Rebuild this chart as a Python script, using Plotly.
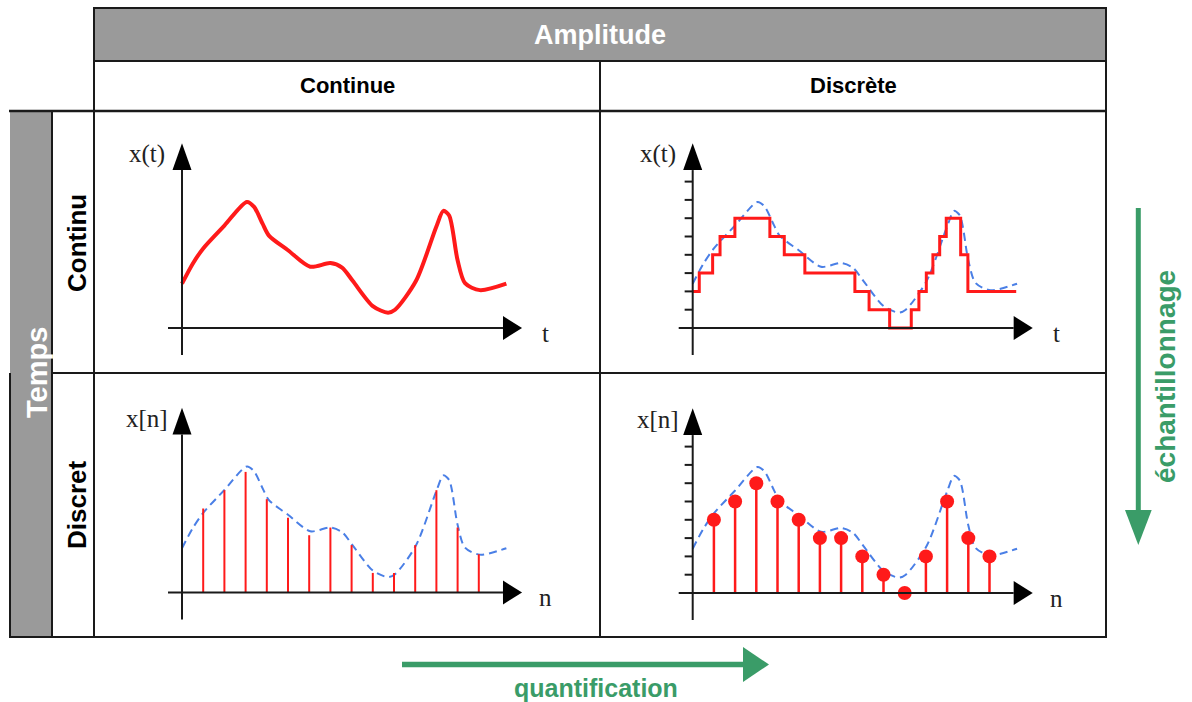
import plotly.graph_objects as go

W, H = 1192, 702

# Continuous analog signal x(t): time (in sample periods) and amplitude (in quantisation steps)
sig_t = [0.0, 0.5, 1.0, 2.0, 3.06, 3.4, 3.8, 4.1, 5.0, 6.05, 7.0, 7.55, 8.05, 9.0, 9.72,
         10.05, 11.04, 12.0, 12.33, 12.6, 13.0, 13.35, 14.05, 15.3]
sig_x = [2.42, 3.5, 4.35, 5.6, 6.89, 6.62, 5.7, 5.05, 4.25, 3.35, 3.55, 3.3, 2.58, 1.2, 0.84,
         1.0, 2.58, 5.55, 6.4, 6.15, 3.7, 2.45, 2.07, 2.42]

# Quantised (staircase) version of x(t): step change times and held levels
stair_t = [0.0, 0.31, 0.94, 1.29, 1.99, 3.64, 4.32, 5.29, 7.65, 8.32, 9.29, 10.31, 10.67,
           11.02, 11.33, 11.65, 11.96, 12.64, 12.98, 15.26]
stair_level = [2, 3, 4, 5, 6, 5, 4, 3, 2, 1, 0, 1, 2, 3, 4, 5, 6, 4, 2, 2]

# Sampled signal x[n]
sample_n = [1, 2, 3, 4, 5, 6, 7, 8, 9, 10, 11, 12, 13, 14]
sample_x = [4.59, 5.59, 6.59, 5.10, 4.08, 3.13, 3.55, 2.59, 1.07, 1.07, 2.59, 5.59, 3.55, 2.09]

# Sampled and quantised signal
digital_x = [4, 5, 6, 5, 4, 3, 3, 2, 1, 0, 2, 5, 3, 2]

quant_levels = [1, 2, 3, 4, 5, 6, 7, 8]

RED = "#ff1a1a"
BLUE = "#4a7fe6"
GREEN = "#3a9c68"
INK = "#1a1a1a"
GREY = "#9a9a9a"

T_UNIT = 21.2   # pixels per sample period
A_UNIT = 18.3   # pixels per quantisation step

# panel: (cell left, right, top, bottom, origin x, origin y) in pixels
panels = {
    "1": (95, 599, 112, 372, 182.0, 328.0),
    "2": (601, 1105, 112, 372, 692.7, 328.0),
    "3": (95, 599, 374, 636, 182.0, 592.5),
    "4": (601, 1105, 374, 636, 692.7, 593.0),
}

fig = go.Figure()
layout_axes = {}
for k, (x0, x1, y0, y1, ox, oy) in panels.items():
    suffix = "" if k == "1" else k
    layout_axes["xaxis" + suffix] = dict(
        domain=[x0 / W, x1 / W], range=[(x0 - ox) / T_UNIT, (x1 - ox) / T_UNIT],
        visible=False, fixedrange=True, anchor="y" + suffix)
    layout_axes["yaxis" + suffix] = dict(
        domain=[1 - y1 / H, 1 - y0 / H], range=[(oy - y1) / A_UNIT, (oy - y0) / A_UNIT],
        visible=False, fixedrange=True, anchor="x" + suffix)


def refs(k):
    return ("x", "y") if k == "1" else ("x" + k, "y" + k)


def stems(xs, ys):
    sx, sy = [], []
    for a, b in zip(xs, ys):
        sx += [a, a, None]
        sy += [0, b, None]
    return sx, sy


SMOOTH = 0.8

# Panel 1: continuous time, continuous amplitude
xr, yr = refs("1")
fig.add_trace(go.Scatter(x=sig_t, y=sig_x, mode="lines", xaxis=xr, yaxis=yr,
                         line=dict(color=RED, width=4, shape="spline", smoothing=SMOOTH)))

# Panel 2: continuous time, discrete amplitude
xr, yr = refs("2")
fig.add_trace(go.Scatter(x=sig_t, y=sig_x, mode="lines", xaxis=xr, yaxis=yr,
                         line=dict(color=BLUE, width=2, dash="8px,5px", shape="spline", smoothing=SMOOTH)))
fig.add_trace(go.Scatter(x=stair_t, y=stair_level, mode="lines", xaxis=xr, yaxis=yr,
                         line=dict(color=RED, width=3, shape="hv")))

# Panel 3: discrete time, continuous amplitude
xr, yr = refs("3")
fig.add_trace(go.Scatter(x=sig_t, y=sig_x, mode="lines", xaxis=xr, yaxis=yr,
                         line=dict(color=BLUE, width=2, dash="8px,5px", shape="spline", smoothing=SMOOTH)))
sx, sy = stems(sample_n, sample_x)
fig.add_trace(go.Scatter(x=sx, y=sy, mode="lines", xaxis=xr, yaxis=yr,
                         line=dict(color=RED, width=2)))

# Panel 4: discrete time, discrete amplitude
xr, yr = refs("4")
fig.add_trace(go.Scatter(x=sig_t, y=sig_x, mode="lines", xaxis=xr, yaxis=yr,
                         line=dict(color=BLUE, width=2, dash="8px,5px", shape="spline", smoothing=SMOOTH)))
sx, sy = stems(sample_n, digital_x)
fig.add_trace(go.Scatter(x=sx, y=sy, mode="lines", xaxis=xr, yaxis=yr,
                         line=dict(color=RED, width=2.5)))
fig.add_trace(go.Scatter(x=sample_n, y=digital_x, mode="markers", xaxis=xr, yaxis=yr,
                         cliponaxis=False, marker=dict(color=RED, size=14, line=dict(width=0))))

shapes = []
annotations = []

# Axis arrows and labels for each panel (in data units)
X_AX_START, X_AX_END, X_TIP, X_HEAD = -0.66, 15.14, 16.04, 0.656
Y_AX_START, Y_AX_END, Y_TIP, Y_HEAD = -1.475, 8.63, 10.09, 0.448
axis_labels = {"1": ("x(t)", "t"), "2": ("x(t)", "t"), "3": ("x[n]", "n"), "4": ("x[n]", "n")}
for k in panels:
    xr, yr = refs(k)
    shapes.append(dict(type="line", xref=xr, yref=yr, x0=X_AX_START, x1=X_AX_END, y0=0, y1=0,
                       line=dict(color=INK, width=2)))
    shapes.append(dict(type="path", xref=xr, yref=yr,
                       path=f"M {X_AX_END},{-X_HEAD} L {X_TIP},0 L {X_AX_END},{X_HEAD} Z",
                       fillcolor="black", line=dict(width=0)))
    shapes.append(dict(type="line", xref=xr, yref=yr, x0=0, x1=0, y0=Y_AX_START, y1=Y_AX_END,
                       line=dict(color=INK, width=2)))
    shapes.append(dict(type="path", xref=xr, yref=yr,
                       path=f"M {-Y_HEAD},{Y_AX_END} L 0,{Y_TIP} L {Y_HEAD},{Y_AX_END} Z",
                       fillcolor="black", line=dict(width=0)))
    if k in ("2", "4"):
        for lv in quant_levels:
            shapes.append(dict(type="line", xref=xr, yref=yr, x0=-0.38, x1=0, y0=lv, y1=lv,
                               line=dict(color=INK, width=2)))
    ylab, xlab = axis_labels[k]
    annotations.append(dict(text=ylab, xref=xr, yref=yr, x=-1.65, y=9.5, showarrow=False,
                            font=dict(family="Liberation Serif, Times New Roman, serif",
                                      size=25, color="#222")))
    annotations.append(dict(text=xlab, xref=xr, yref=yr, x=17.15, y=-0.3, showarrow=False,
                            font=dict(family="Liberation Serif, Times New Roman, serif",
                                      size=25, color="#222")))


def pp(x, y):
    return f"{x / W},{1 - y / H}"


def pline(x0, y0, x1, y1, color=INK, width=2):
    shapes.append(dict(type="line", xref="paper", yref="paper",
                       x0=x0 / W, x1=x1 / W, y0=1 - y0 / H, y1=1 - y1 / H,
                       line=dict(color=color, width=width)))


def prect(x0, y0, x1, y1, fill):
    shapes.append(dict(type="rect", xref="paper", yref="paper", layer="below",
                       x0=x0 / W, x1=x1 / W, y0=1 - y1 / H, y1=1 - y0 / H,
                       fillcolor=fill, line=dict(width=0)))


# Table frame
prect(95, 9, 1105, 60, GREY)
prect(10, 112, 52, 636, GREY)
pline(94, 8, 1106, 8)
pline(94, 61, 1106, 61)
pline(9, 111, 1106, 111, width=2.5)
pline(52, 373, 1106, 373)
pline(9, 637, 1106, 637)
pline(94, 7, 94, 638)
pline(1106, 7, 1106, 638)
pline(600, 61, 600, 638)
pline(52, 111, 52, 638)
pline(10, 373, 10, 638)

# Process arrows
pline(402, 664.5, 745, 664.5, color=GREEN, width=5.5)
shapes.append(dict(type="path", xref="paper", yref="paper",
                   path=f"M {pp(743, 647)} L {pp(769, 664.5)} L {pp(743, 682)} Z",
                   fillcolor=GREEN, line=dict(width=0)))
pline(1138.3, 208, 1138.3, 512, color=GREEN, width=5)
shapes.append(dict(type="path", xref="paper", yref="paper",
                   path=f"M {pp(1125, 510)} L {pp(1138.3, 545)} L {pp(1151.7, 510)} Z",
                   fillcolor=GREEN, line=dict(width=0)))

SANS = "Liberation Sans, Arial, Helvetica, sans-serif"


def ptext(text, x, y, size, color, angle=0):
    annotations.append(dict(text=text, xref="paper", yref="paper", x=x / W, y=1 - y / H,
                            xanchor="center", yanchor="middle", showarrow=False, textangle=angle,
                            font=dict(family=SANS, size=size, color=color, weight="bold")))


ptext("Amplitude", 600, 35, 27, "white")
ptext("Continue", 347, 86, 22, "black")
ptext("Discrète", 853, 86, 22, "black")
ptext("Temps", 37, 373, 29, "white", -90)
ptext("Continu", 77, 243, 26, "black", -90)
ptext("Discret", 77, 505, 26, "black", -90)
ptext("échantillonnage", 1165, 377, 28, GREEN, -90)
ptext("quantification", 596, 688, 25, GREEN)

fig.update_layout(
    width=W, height=H, autosize=False,
    margin=dict(l=0, r=0, t=0, b=0),
    paper_bgcolor="white", plot_bgcolor="rgba(0,0,0,0)",
    showlegend=False,
    shapes=shapes, annotations=annotations,
    **layout_axes,
)

fig.write_html("out.html", config={"displayModeBar": False})
